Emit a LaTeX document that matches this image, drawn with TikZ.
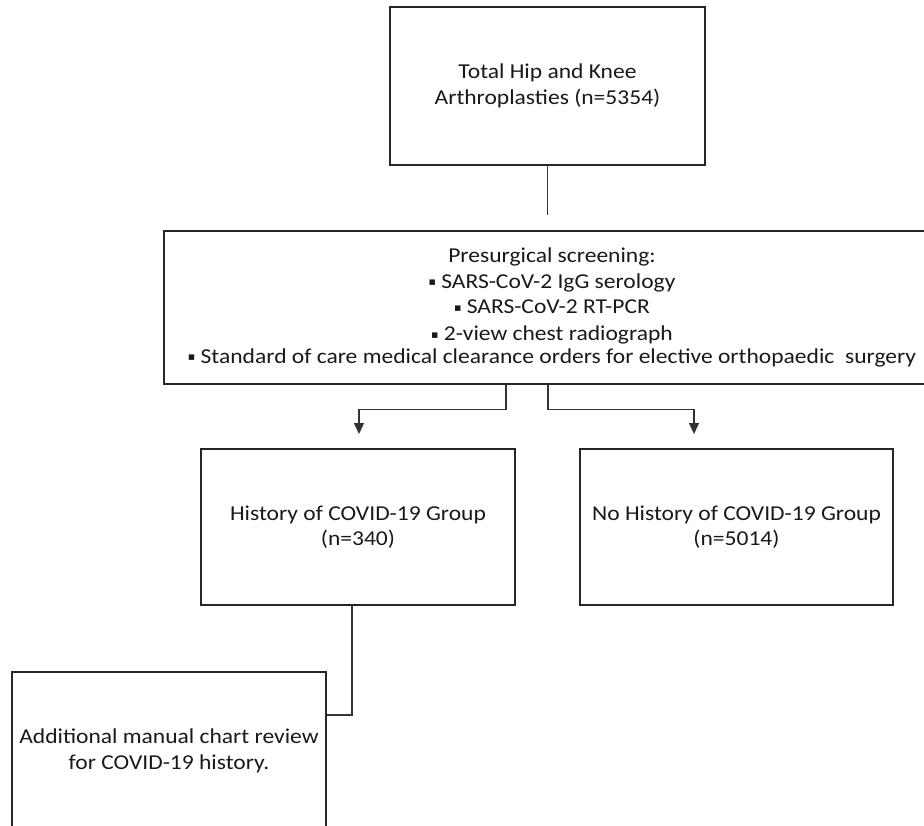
\documentclass[tikz,border=0pt]{standalone}
\usepackage{fontspec}
\setmainfont{Carlito}[FakeStretch=1.11]
\newfontfamily\symfont{DejaVu Sans}
\usetikzlibrary{arrows.meta}
\newcommand{\sqbul}{\raisebox{2.5pt}{\symfont\fontsize{11}{11}\selectfont ▪}}
\tikzset{
  box/.style={draw=black!85, line width=1.4pt, rectangle, align=center, inner sep=0pt,
    font=\fontsize{21.2}{25.5}\selectfont, text=black!90},
  link/.style={draw=black!80, line width=1.4pt},
  arr/.style={link, -{Triangle[width=10pt,length=11pt]}}
}
\begin{document}
\begin{tikzpicture}[x=1pt,y=-1pt]
  \useasboundingbox (0,0) rectangle (924,826);
  \clip (0,0) rectangle (924,826);
  \node[box, minimum width=315pt, minimum height=158pt] (total) at (547.5,86)
    {Total Hip and Knee\\Arthroplasties (n=5354)};
  \node[box, minimum width=776pt, minimum height=153pt] (screen) at (552,307.5)
    {Presurgical screening:\\
     \sqbul{} SARS-CoV-2 IgG serology\\
     \sqbul{} SARS-CoV-2 RT-PCR\\[1.5pt]
     \sqbul{} 2-view chest radiograph\\[-3pt]
     \sqbul{} Standard of care medical clearance orders for elective orthopaedic\ \ surgery};
  \node[box, minimum width=314pt, minimum height=156pt] (hist) at (358,527)
    {History of COVID-19 Group\\(n=340)};
  \node[box, minimum width=313pt, minimum height=156pt] (nohist) at (736.5,527)
    {No History of COVID-19 Group\\(n=5014)};
  \node[box, minimum width=314pt, minimum height=158pt] (review) at (169,751)
    {Additional manual chart review\\for COVID-19 history.};
  \coordinate (gap) at (547.5,215);
  \coordinate (hin) at (359,434);
  \coordinate (nin) at (694,434);
  \draw[link] (total) -- (gap);
  \draw[arr] ([xshift=-46pt]screen.south) -- ++(0,25) -| (hin);
  \draw[arr] ([xshift=-4pt]screen.south) -- ++(0,25) -| (nin);
  \draw[link] ([xshift=-6pt]hist.south) |- ([yshift=36pt]review.east);
\end{tikzpicture}
\end{document}
